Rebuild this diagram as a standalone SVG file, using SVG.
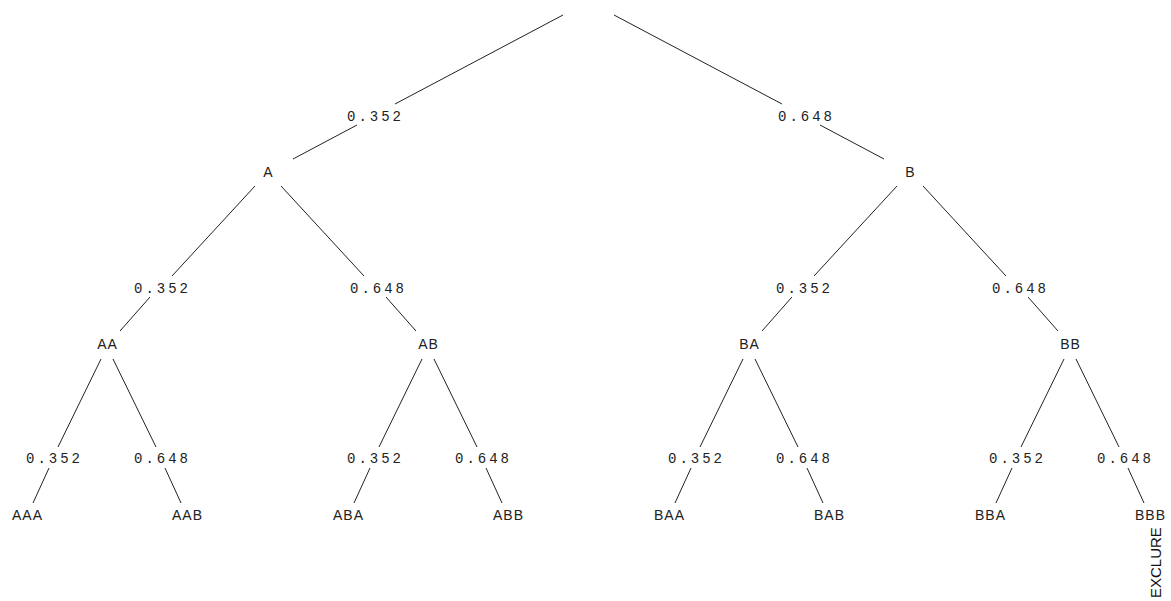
<svg xmlns="http://www.w3.org/2000/svg" width="1171" height="601" viewBox="0 0 1171 601">
<style>
.e{stroke:#222;stroke-width:1;fill:none}
.p{font-family:"Liberation Mono","DejaVu Sans Mono",monospace;font-size:14px;letter-spacing:3px;fill:#222}
.n{font-family:"Liberation Sans",Arial,sans-serif;font-size:14px;letter-spacing:1px;fill:#222;text-anchor:middle}
.x{font-family:"Liberation Sans",Arial,sans-serif;font-size:15px;fill:#111}
</style>
<rect width="1171" height="601" fill="#fff"/>
<g id="connectors">
<line class="e" x1="563" y1="15" x2="395" y2="104"/><line class="e" x1="357" y1="125" x2="293" y2="159"/>
<line class="e" x1="614" y1="15" x2="782" y2="104"/><line class="e" x1="820" y1="125" x2="884" y2="159"/>
<g id="edgesA">
<line class="e" x1="255" y1="186" x2="172" y2="276"/><line class="e" x1="150" y1="297" x2="120" y2="331"/>
<line class="e" x1="281" y1="186" x2="364" y2="276"/><line class="e" x1="386" y1="297" x2="416" y2="331"/>
</g>
<g transform="translate(642,0)">
<line class="e" x1="255" y1="186" x2="172" y2="276"/><line class="e" x1="150" y1="297" x2="120" y2="331"/>
<line class="e" x1="281" y1="186" x2="364" y2="276"/><line class="e" x1="386" y1="297" x2="416" y2="331"/>
</g>
<g id="edgesAA">
<line class="e" x1="101" y1="359" x2="58" y2="447"/><line class="e" x1="49" y1="468" x2="33" y2="503"/>
<line class="e" x1="113" y1="359" x2="156" y2="447"/><line class="e" x1="165" y1="468" x2="181" y2="503"/>
</g>
<g transform="translate(321,0)">
<line class="e" x1="101" y1="359" x2="58" y2="447"/><line class="e" x1="49" y1="468" x2="33" y2="503"/>
<line class="e" x1="113" y1="359" x2="156" y2="447"/><line class="e" x1="165" y1="468" x2="181" y2="503"/>
</g>
<g transform="translate(642,0)">
<line class="e" x1="101" y1="359" x2="58" y2="447"/><line class="e" x1="49" y1="468" x2="33" y2="503"/>
<line class="e" x1="113" y1="359" x2="156" y2="447"/><line class="e" x1="165" y1="468" x2="181" y2="503"/>
</g>
<g transform="translate(963,0)">
<line class="e" x1="101" y1="359" x2="58" y2="447"/><line class="e" x1="49" y1="468" x2="33" y2="503"/>
<line class="e" x1="113" y1="359" x2="156" y2="447"/><line class="e" x1="165" y1="468" x2="181" y2="503"/>
</g>
<g id="edge-labels">
<text class="p" x="347" y="121">0.352</text>
<text class="p" x="778" y="121">0.648</text>
<text class="p" x="134" y="293">0.352</text>
<text class="p" x="350" y="293">0.648</text>
<text class="p" x="776" y="293">0.352</text>
<text class="p" x="992" y="293">0.648</text>
<text class="p" x="26" y="463">0.352</text>
<text class="p" x="134" y="463">0.648</text>
<text class="p" x="347" y="463">0.352</text>
<text class="p" x="455" y="463">0.648</text>
<text class="p" x="668" y="463">0.352</text>
<text class="p" x="776" y="463">0.648</text>
<text class="p" x="989" y="463">0.352</text>
<text class="p" x="1097" y="463">0.648</text>
</g>
</g>
<g id="node-A"><text class="n" x="268.5" y="177">A</text></g>
<g id="node-B"><text class="n" x="910.5" y="177">B</text></g>
<g id="node-AA"><text class="n" x="107.5" y="349">AA</text></g>
<g id="node-AB"><text class="n" x="428.5" y="349">AB</text></g>
<g id="node-BA"><text class="n" x="749.5" y="349">BA</text></g>
<g id="node-BB"><text class="n" x="1070.5" y="349">BB</text></g>
<g id="node-AAA"><text class="n" x="27.5" y="520">AAA</text></g>
<g id="node-AAB"><text class="n" x="187.5" y="520">AAB</text></g>
<g id="node-ABA"><text class="n" x="348.5" y="520">ABA</text></g>
<g id="node-ABB"><text class="n" x="508.5" y="520">ABB</text></g>
<g id="node-BAA"><text class="n" x="669.5" y="520">BAA</text></g>
<g id="node-BAB"><text class="n" x="829.5" y="520">BAB</text></g>
<g id="node-BBA"><text class="n" x="990.5" y="520">BBA</text></g>
<g id="node-BBB"><text class="n" x="1150.5" y="520">BBB</text>
<text class="x" transform="translate(1161,598) rotate(-90)">EXCLURE</text></g>
</svg>
